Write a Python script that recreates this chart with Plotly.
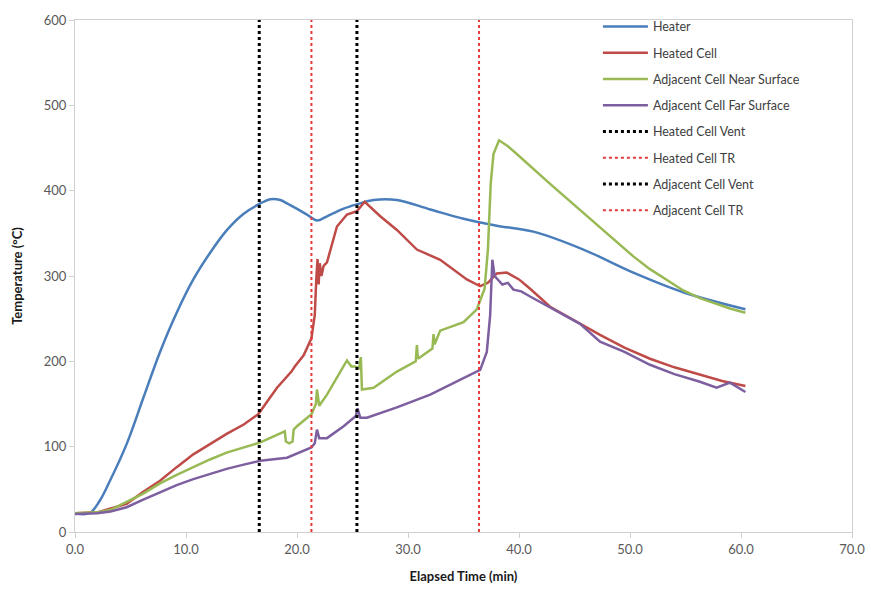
import plotly.graph_objects as go

# Elapsed time (min) and temperature (°C) for each thermocouple
heater_t = [0, 1.3, 2.2, 3.15, 4.65, 6.15, 7.66, 9.16, 10.66, 12.16, 13.7, 15.2, 16.7,
            17.6, 18.5, 19.1, 20.9, 21.8, 22.7, 24.2, 25.4, 26.9, 29, 32, 35, 38, 41.3,
            45.8, 50.3, 54.8, 60.4]
heater_T = [22, 22, 36, 60, 103, 157, 211, 257, 296, 327, 354, 373, 385,
            390, 389, 385, 372, 365, 370, 379, 384, 389, 389, 378, 367, 359, 352,
            331, 304, 281, 261]

heated_t = [0, 2, 3.2, 4.65, 6.15, 7.66, 9.16, 10.66, 12.16, 13.66, 15.2, 16.5, 18.2,
            19.5, 19.8, 20.6, 21.3, 21.6, 21.75, 21.85, 21.95, 22.05, 22.2, 22.4, 22.7,
            23.6, 24.5, 25.4, 26.1, 27.5, 29, 30.8, 32.9, 34.1, 35.3, 36.5, 37.2, 38,
            38.9, 40, 41, 42.8, 44, 45.5, 47.3, 49.5, 51.8, 54, 56.3, 58.3, 60.4]
heated_T = [22, 23, 27.5, 33, 47, 60, 76, 91, 103, 115, 126, 138, 169,
            188, 194, 207, 227, 254, 300, 320, 290, 315, 300, 312, 316,
            358, 372, 376, 387, 370, 354, 331, 319, 308, 296, 288, 292, 303,
            304, 296, 285, 264, 255, 244, 231, 216, 203, 193, 184, 177, 171]

near_t = [0, 2, 3.2, 4.65, 6.15, 7.66, 9.16, 10.66, 12.16, 13.66, 15.2, 16.7, 18.9,
          19.0, 19.3, 19.6, 19.7, 20.0, 21.3, 21.7, 21.8, 22.0, 22.7, 24.5, 24.9,
          25.2, 25.6, 25.75, 25.85, 26.9, 29, 30.7, 30.8, 30.9, 32.2, 32.3, 32.4,
          32.9, 35, 36.2, 36.9, 37.2, 37.45, 37.7, 38.2, 39.0, 39.8, 41.3, 42.8,
          44.3, 45.8, 47.3, 48.8, 50.3, 51.8, 53.3, 54.8, 56.3, 57.8, 59.0, 60.4]
near_T = [22, 23, 26, 35, 45, 57, 67, 76, 85, 93, 99, 105, 118,
          106, 104, 106, 120, 124, 138, 150, 167, 148, 161, 201, 194,
          194, 192, 205, 167, 169, 188, 200, 219, 203, 215, 232, 220,
          236, 246, 261, 285, 331, 408, 443, 459, 452, 443, 425, 408,
          391, 374, 356, 339, 323, 308, 295, 283, 274, 267, 262, 257]

far_t = [0, 2, 3.2, 4.65, 6.15, 7.66, 9.16, 10.66, 12.16, 13.66, 15.2, 16.7, 19.1,
         21.3, 21.6, 21.8, 22.0, 22.7, 24.2, 25.3, 25.45, 25.7, 26.3, 29, 32, 35,
         36.5, 37.1, 37.4, 37.6, 37.8, 38.5, 39.0, 39.5, 40.2, 41.0, 42.5, 45.5,
         47.3, 49.5, 51.8, 54.0, 56.3, 57.8, 59.0, 60.4]
far_T = [21, 22, 24, 29, 38, 47, 55, 62, 68, 74, 79, 83.5, 87,
         99, 104, 120, 110, 110, 124, 136, 145, 134, 134, 146, 161, 180,
         190, 211, 254, 319, 300, 290, 292, 284, 282, 276, 265, 244,
         223, 211, 196, 185, 176, 169, 175, 164]

# Vent and thermal runaway event times (min)
event_names = ["Heated Cell Vent", "Heated Cell TR", "Adjacent Cell Vent", "Adjacent Cell TR"]
event_times = [16.6, 21.3, 25.4, 36.4]
event_colors = ["#000000", "#e8393b", "#000000", "#e8393b"]
event_widths = [3, 2, 3, 2]

series = [
    ("Heater", heater_t, heater_T, "#4a7ebb", "spline"),
    ("Heated Cell", heated_t, heated_T, "#be4b48", "linear"),
    ("Adjacent Cell Near Surface", near_t, near_T, "#98b954", "linear"),
    ("Adjacent Cell Far Surface", far_t, far_T, "#7d5fa0", "linear"),
]

y_range = [0, 600]

fig = go.Figure()
for i, (name, t, T, color, shape) in enumerate(series):
    fig.add_trace(go.Scatter(x=t, y=T, mode="lines", name=name,
                             legendgroup=f"g{i}",
                             line=dict(color=color, width=2.5, shape=shape)))

for j, (name, tx, color, w) in enumerate(zip(event_names, event_times, event_colors, event_widths)):
    fig.add_trace(go.Scatter(x=[tx, tx], y=y_range, mode="lines", name=name,
                             legendgroup=f"e{j}",
                             line=dict(color=color, width=w, dash="dot")))

axis_font = dict(family="Lato, Carlito, sans-serif", size=13, color="#595959")
title_font = dict(family="Lato, Carlito, sans-serif", size=13, color="#1a1a1a")

fig.update_layout(
    width=871, height=590,
    margin=dict(l=75, r=19, t=15, b=58),
    plot_bgcolor="white", paper_bgcolor="white",
    font=dict(family="Lato, Carlito, sans-serif"),
    legend=dict(x=0.673, y=1.016, xanchor="left", yanchor="top",
                font=dict(size=12.5, color="#404040"),
                itemwidth=45,
                bgcolor="rgba(0,0,0,0)", tracegroupgap=7),
    xaxis=dict(range=[0, 70], dtick=10, tick0=0, tickformat=".1f",
               showgrid=False, zeroline=False, automargin=False,
               showline=True, linecolor="#d0d0d0", linewidth=1, mirror=True,
               ticks="outside", ticklen=5, tickcolor="#d0d0d0",
               tickfont=axis_font,
               title=dict(text="<b>Elapsed Time (min)</b>", font=title_font, standoff=16)),
    yaxis=dict(range=y_range, dtick=100, tick0=0,
               showgrid=False, zeroline=False, automargin=False,
               showline=True, linecolor="#d0d0d0", linewidth=1, mirror=True,
               ticks="outside", ticklen=5, tickcolor="#d0d0d0",
               tickfont=axis_font,
               title=dict(text="<b>Temperature (°C)</b>", font=title_font, standoff=18)),
)

fig.write_html("out.html")
